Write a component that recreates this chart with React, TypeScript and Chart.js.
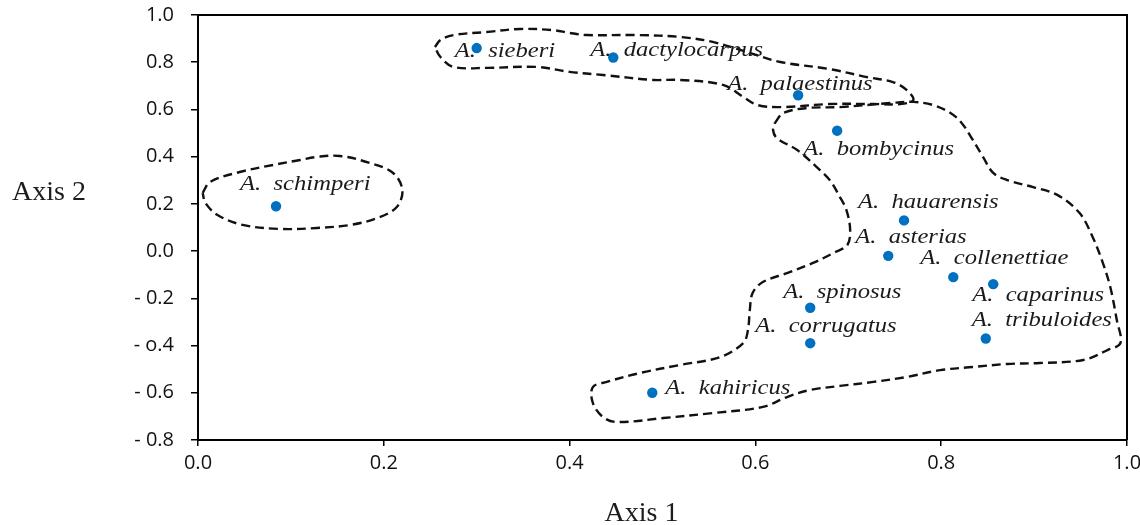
import React, { useEffect, useRef } from "react";
import { Chart, registerables } from "chart.js";

Chart.register(...registerables);

// ---- data ----
const species = [
  "schimperi", "sieberi", "dactylocarpus", "palaestinus", "bombycinus",
  "hauarensis", "asterias", "collenettiae", "caparinus", "spinosus",
  "corrugatus", "tribuloides", "kahiricus",
];
const axis1 = [0.084, 0.30, 0.447, 0.646, 0.688, 0.76, 0.743, 0.813, 0.856, 0.659, 0.659, 0.848, 0.489];
const axis2 = [0.19, 0.86, 0.82, 0.66, 0.51, 0.13, -0.02, -0.11, -0.14, -0.24, -0.39, -0.37, -0.60];

const xTickLabels = ["0.0", "0.2", "0.4", "0.6", "0.8", "1.0"];
const yTickLabels = ["- 0.8", "- 0.6", "- o.4", "- 0.2", "0.0", "0.2", "0.4", "0.6", "0.8", "1.0"];

const xTitle = "Axis 1";
const yTitle = "Axis 2";

// group outlines (data coordinates)
const outlineSchimperi = [
  [0.005, 0.246], [0.013, 0.293], [0.045, 0.335], [0.081, 0.365], [0.110, 0.386],
  [0.128, 0.399], [0.153, 0.403], [0.185, 0.373], [0.210, 0.331], [0.220, 0.259],
  [0.214, 0.187], [0.193, 0.140], [0.164, 0.111], [0.128, 0.098], [0.088, 0.094],
  [0.048, 0.111], [0.021, 0.153], [0.008, 0.204],
];
const outlineTop = [
  [0.255, 0.864], [0.261, 0.894], [0.275, 0.915], [0.311, 0.928], [0.347, 0.941],
  [0.382, 0.936], [0.400, 0.924], [0.419, 0.915], [0.473, 0.915], [0.519, 0.907],
  [0.554, 0.886], [0.591, 0.843], [0.627, 0.801], [0.680, 0.771], [0.720, 0.737],
  [0.748, 0.716], [0.763, 0.682], [0.770, 0.640], [0.756, 0.623], [0.727, 0.623],
  [0.680, 0.623], [0.627, 0.610], [0.602, 0.619], [0.587, 0.653], [0.565, 0.704],
  [0.519, 0.725], [0.490, 0.725], [0.436, 0.746], [0.400, 0.759], [0.365, 0.780],
  [0.311, 0.776], [0.275, 0.780], [0.261, 0.822],
];
const outlineBig = [
  [0.621, 0.543], [0.630, 0.585], [0.656, 0.606], [0.691, 0.610], [0.745, 0.627],
  [0.770, 0.632], [0.791, 0.619], [0.810, 0.585], [0.822, 0.543], [0.834, 0.471],
  [0.845, 0.399], [0.856, 0.331], [0.871, 0.301], [0.899, 0.271], [0.925, 0.238],
  [0.949, 0.161], [0.963, 0.060], [0.974, -0.050], [0.982, -0.152], [0.989, -0.292],
  [0.993, -0.389], [0.979, -0.419], [0.953, -0.461], [0.906, -0.474], [0.871, -0.478],
  [0.834, -0.491], [0.799, -0.504], [0.763, -0.533], [0.727, -0.554], [0.691, -0.571],
  [0.659, -0.588], [0.634, -0.618], [0.608, -0.660], [0.554, -0.686], [0.501, -0.707],
  [0.451, -0.724], [0.436, -0.703], [0.425, -0.643], [0.425, -0.576], [0.440, -0.554],
  [0.476, -0.516], [0.519, -0.482], [0.562, -0.449], [0.587, -0.389], [0.592, -0.334],
  [0.594, -0.249], [0.597, -0.177], [0.608, -0.131], [0.634, -0.093], [0.662, -0.050],
  [0.686, -0.004], [0.699, 0.026], [0.702, 0.089], [0.698, 0.174], [0.691, 0.229],
  [0.680, 0.301], [0.666, 0.356], [0.645, 0.428], [0.623, 0.479], [0.619, 0.513],
];
const outlines = [outlineSchimperi, outlineTop, outlineBig];

// ---- styling / placement (kept apart from data) ----
const labelOffsets = [
  [-36, -16], [-22, 9], [-23, -2], [-71, -5], [-34, 24], [-46, -12], [-33, -13],
  [-33, -13], [-21, 17], [-27, -10], [-55, -11], [-14, -12], [13, 1],
];
const POINT_COLOR = "#0070C0";
const TICK_FONT = { family: "'Open Sans', sans-serif", size: 20 };

const framePlugin = {
  id: "frame",
  afterDraw(chart: any) {
    const { ctx, chartArea } = chart;
    ctx.save();
    ctx.strokeStyle = "#000";
    ctx.lineWidth = 2;
    ctx.beginPath();
    ctx.moveTo(chartArea.left, chartArea.top);
    ctx.lineTo(chartArea.right, chartArea.top);
    ctx.lineTo(chartArea.right, chartArea.bottom);
    ctx.stroke();
    ctx.restore();
  },
};

const labelPlugin = {
  id: "speciesLabels",
  afterDatasetsDraw(chart: any) {
    const { ctx } = chart;
    const meta = chart.getDatasetMeta(0);
    ctx.save();
    ctx.fillStyle = "#1a1a1a";
    ctx.font = "italic 20.5px 'Liberation Serif', 'Times New Roman', serif";
    ctx.textBaseline = "alphabetic";
    ctx.textAlign = "left";
    meta.data.forEach((pt: any, i: number) => {
      const [dx, dy] = labelOffsets[i];
      ctx.save();
      ctx.translate(pt.x + dx, pt.y + dy);
      ctx.scale(1.2, 1);
      ctx.fillText("A.  " + species[i], 0, 0);
      ctx.restore();
    });
    ctx.restore();
  },
};

const titlePlugin = {
  id: "axisTitles",
  afterDraw(chart: any) {
    const { ctx, chartArea } = chart;
    ctx.save();
    ctx.fillStyle = "#1c1c1c";
    ctx.font = "28px 'Liberation Serif', 'Times New Roman', serif";
    ctx.textBaseline = "alphabetic";
    ctx.textAlign = "left";
    ctx.fillText(yTitle, 12, 200);
    ctx.textAlign = "center";
    ctx.fillText(xTitle, (chartArea.left + chartArea.right) / 2 - 21, 521);
    ctx.restore();
  },
};

export default function App() {
  const ref = useRef<HTMLCanvasElement | null>(null);

  useEffect(() => {
    if (!ref.current) return;
    const pointData = axis1.map((x, i) => ({ x, y: axis2[i] }));
    const outlineSets = outlines.map((o) => ({
      label: "outline",
      data: [...o, o[0]].map(([x, y]) => ({ x, y })),
      showLine: true,
      pointRadius: 0,
      borderColor: "#111",
      borderWidth: 2.4,
      borderDash: [9, 5],
      tension: 0.35,
      fill: false,
    }));
    const chart = new Chart(ref.current, {
      type: "scatter",
      data: {
        datasets: [
          {
            label: "species",
            data: pointData,
            pointRadius: 5.2,
            pointBackgroundColor: POINT_COLOR,
            pointBorderWidth: 0,
            showLine: false,
          } as any,
          ...(outlineSets as any[]),
        ],
      },
      options: {
        animation: false,
        responsive: false,
        maintainAspectRatio: false,
        layout: { padding: { top: 15, right: 13, left: 0, bottom: 0 } },
        plugins: { legend: { display: false }, tooltip: { enabled: false } },
        scales: {
          x: {
            type: "linear",
            min: 0,
            max: 1,
            ticks: {
              stepSize: 0.2,
              autoSkip: false,
              maxRotation: 0,
              padding: 5,
              color: "#111",
              font: TICK_FONT,
              callback: (_v: any, i: number) => xTickLabels[i],
            },
            grid: { drawOnChartArea: false, color: "#000", lineWidth: 1.5, tickLength: 6 },
            border: { color: "#000", width: 2 },
            afterFit: (s: any) => {
              s.height = 85;
              s.paddingLeft = 0;
              s.paddingRight = 0;
              s.paddingTop = 0;
              s.paddingBottom = 0;
            },
          },
          y: {
            type: "linear",
            min: -0.8,
            max: 1.0,
            ticks: {
              stepSize: 0.2,
              autoSkip: false,
              padding: 17,
              color: "#111",
              font: TICK_FONT,
              callback: (_v: any, i: number) => yTickLabels[i],
            },
            grid: { drawOnChartArea: false, color: "#000", lineWidth: 1.5, tickLength: 7 },
            border: { color: "#000", width: 2 },
            afterFit: (s: any) => {
              s.width = 198;
              s.paddingTop = 0;
              s.paddingBottom = 0;
              s.paddingLeft = 0;
              s.paddingRight = 0;
            },
          },
        },
      } as any,
      plugins: [framePlugin, labelPlugin, titlePlugin],
    });
    return () => chart.destroy();
  }, []);

  return (
    <div style={{ position: "absolute", left: 0, top: 0, width: 1140, height: 525, background: "#fff" }}>
      <canvas ref={ref} width={1140} height={525} style={{ display: "block" }} />
    </div>
  );
}
